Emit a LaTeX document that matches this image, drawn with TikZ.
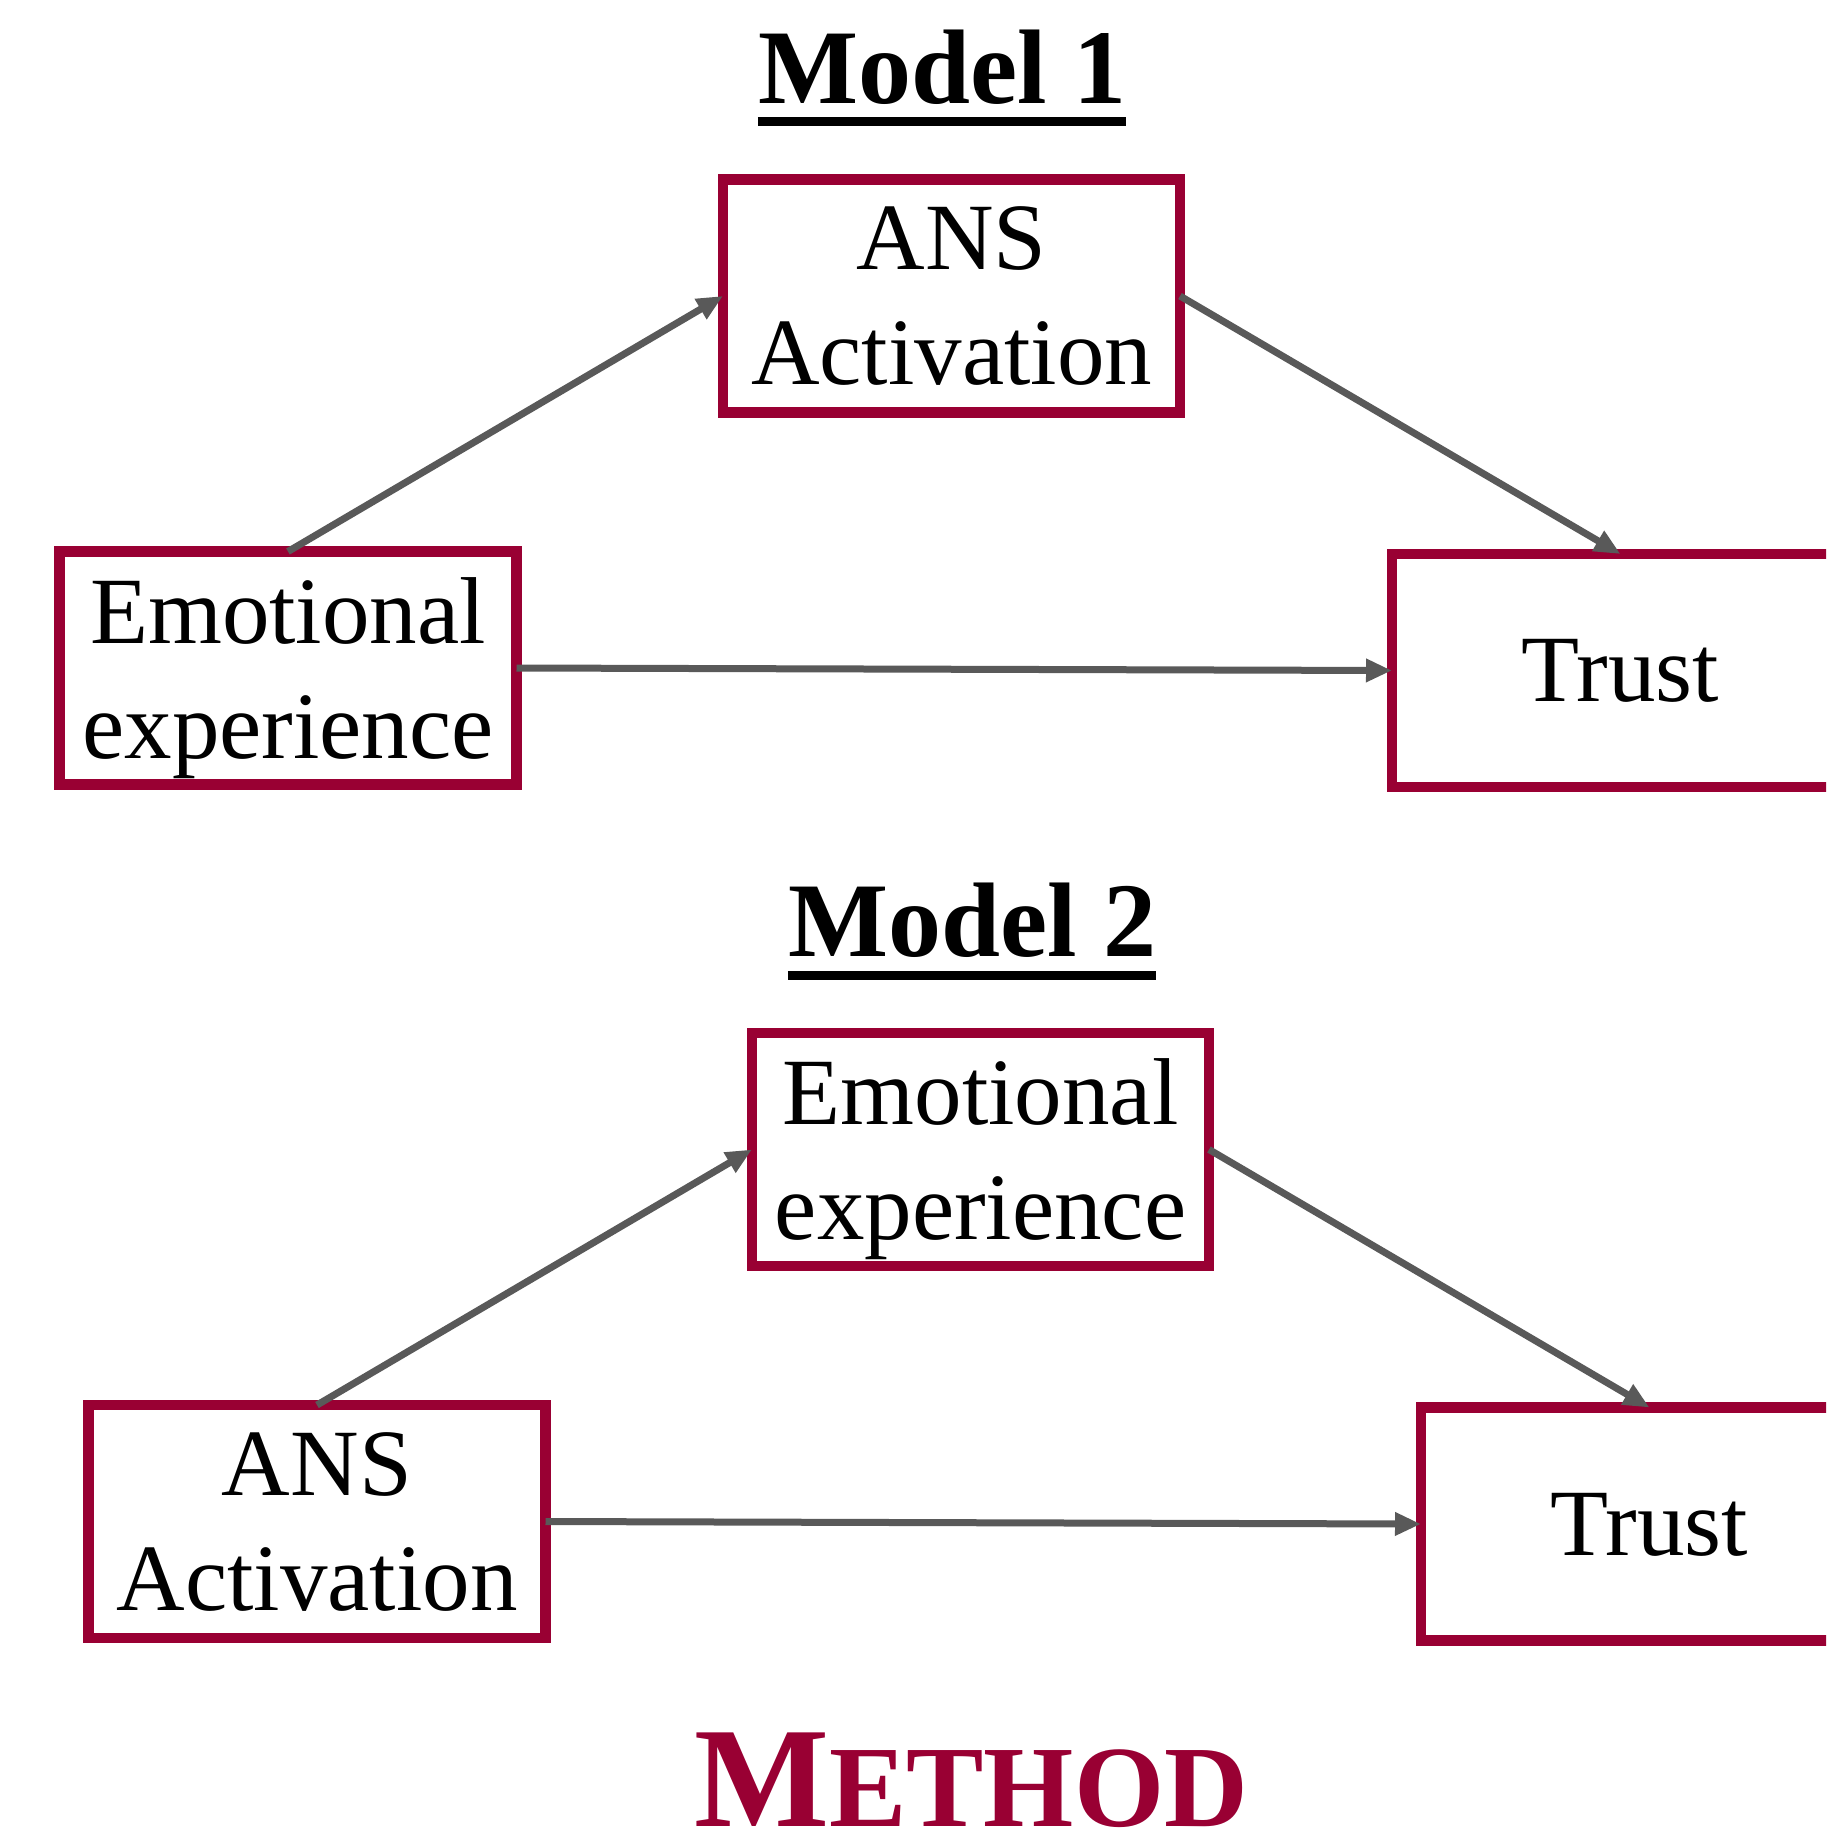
\documentclass[tikz,border=0pt]{standalone}
\usepackage{fontspec}
\setmainfont{Liberation Serif}
\usetikzlibrary{arrows.meta,calc}
\definecolor{maroon}{RGB}{153,0,51}
\definecolor{arrowgray}{RGB}{89,89,89}
\begin{document}
\begin{tikzpicture}[x=1pt,y=-1pt,
  box/.style={draw=maroon, line width=10.5pt, minimum width=457pt, minimum height=233pt, inner sep=0pt, outer sep=0pt, align=center, text depth=-8pt, font=\fontsize{95}{115}\selectfont},
  link/.style={draw=arrowgray, line width=7pt, -{Triangle[length=26pt,width=22pt]}},
  title/.style={font=\fontsize{106}{120}\selectfont\bfseries, inner sep=0pt, anchor=base},
  uline/.style={line width=9pt}
]
\useasboundingbox (0,0) rectangle (1826,1847);
\clip (0,0) rectangle (1826,1847);

% Model 1
\node[title] (m1) at (942,103) {Model 1};
\draw[uline] ($(m1.base west)+(0,18.5)$) -- ($(m1.base east)+(0,18.5)$);
\node[box] (e1) at (288,668) {Emotional\\experience};
\node[box] (a1) at (951.5,296) {ANS\\Activation};
\node[box] (t1) at (1620.5,670.5) {Trust};
\draw[link] (e1.north) -- (a1.west);
\draw[link] (a1.east) -- (t1.north);
\draw[link] (e1.east) -- (t1.west);

% Model 2
\node[title] (m2) at (972,956.5) {Model 2};
\draw[uline] ($(m2.base west)+(0,18.5)$) -- ($(m2.base east)+(0,18.5)$);
\node[box] (a2) at (317,1521.5) {ANS\\Activation};
\node[box] (e2) at (980.5,1149.5) {Emotional\\experience};
\node[box] (t2) at (1649.5,1524) {Trust};
\draw[link] (a2.north) -- (e2.west);
\draw[link] (e2.east) -- (t2.north);
\draw[link] (a2.east) -- (t2.west);

% Footer
\node[anchor=base, inner sep=0pt, text=maroon, font=\bfseries] (method) at (971,1826)
  {{\fontsize{143}{150}\selectfont M}{\fontsize{116}{120}\selectfont ETHOD}};
\end{tikzpicture}
\end{document}
